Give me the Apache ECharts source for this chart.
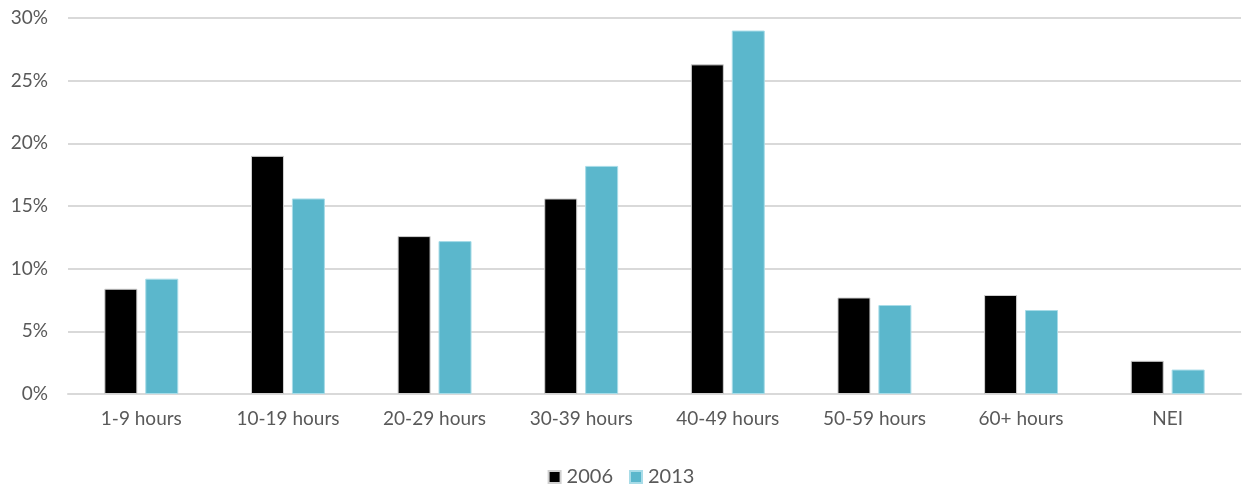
<!DOCTYPE html>
<html>
<head>
<meta charset="utf-8">
<style>
  html, body { margin: 0; padding: 0; background: #fff; }
  #chart { width: 1242px; height: 485px; }
</style>
<script src="https://cdn.jsdelivr.net/npm/echarts@6/dist/echarts.min.js"></script>
</head>
<body>
<div id="chart"></div>
<script>
// Weekly hours worked, share of workers
const categories = ['1-9 hours', '10-19 hours', '20-29 hours', '30-39 hours', '40-49 hours', '50-59 hours', '60+ hours', 'NEI'];
const values2006 = [8.4, 19.0, 12.6, 15.6, 26.3, 7.7, 7.9, 2.65];
const values2013 = [9.2, 15.6, 12.2, 18.2, 29.0, 7.1, 6.7, 1.95];
const yTicks = [0, 5, 10, 15, 20, 25, 30];

const font = 'Lato, "Open Sans", sans-serif';
const textColor = '#595959';

const chart = echarts.init(document.getElementById('chart'));
chart.setOption({
  animation: false,
  textStyle: { fontFamily: font },
  grid: { left: 68, right: 1, top: 18, bottom: 91, containLabel: false },
  legend: {
    top: 467,
    left: 'center',
    padding: 0,
    itemWidth: 12,
    itemHeight: 12,
    itemGap: 16,
    icon: 'rect',
    textStyle: { fontSize: 20, color: textColor, fontFamily: font, padding: [0, 0, 0, 1] },
    data: ['2006', '2013']
  },
  xAxis: {
    type: 'category',
    data: categories,
    axisTick: { show: false },
    axisLine: { show: true, lineStyle: { color: '#d9d9d9', width: 2 } },
    axisLabel: { fontSize: 19, color: textColor, margin: 15 }
  },
  yAxis: {
    type: 'value',
    min: yTicks[0],
    max: yTicks[yTicks.length - 1],
    interval: 5,
    axisLine: { show: false },
    axisTick: { show: false },
    splitLine: { lineStyle: { color: '#d9d9d9', width: 2 } },
    axisLabel: { fontSize: 19, color: textColor, margin: 20, formatter: v => v + '%' }
  },
  series: [
    {
      name: '2006',
      type: 'bar',
      data: values2006,
      barWidth: 33,
      barGap: '24%',
      itemStyle: { color: '#000000', borderColor: '#d0d0d0', borderWidth: 1 }
    },
    {
      name: '2013',
      type: 'bar',
      data: values2013,
      barWidth: 33,
      itemStyle: { color: '#5bb7cc', borderColor: '#a8dce8', borderWidth: 1 }
    }
  ]
});
</script>
</body>
</html>
